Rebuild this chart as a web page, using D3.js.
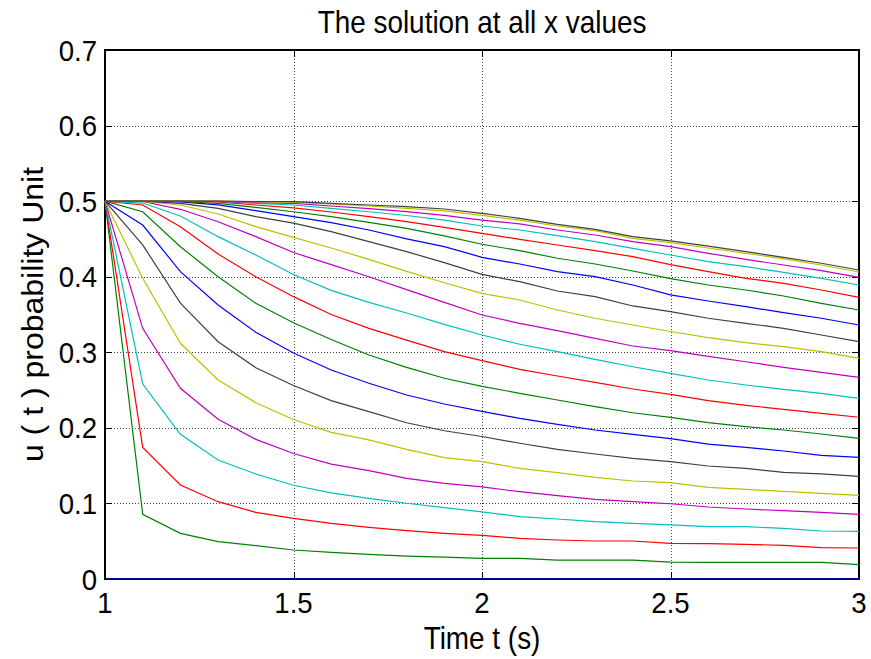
<!DOCTYPE html>
<html><head><meta charset="utf-8">
<script src="https://cdn.jsdelivr.net/npm/d3@7/dist/d3.min.js"></script>
<style>body{margin:0;background:#fff}svg{display:block}</style>
</head><body>
<svg id="chart" width="871" height="659"></svg>
<script>
// ---- data ----
const times = [1.0,1.1,1.2,1.3,1.4,1.5,1.6,1.7,1.8,1.9,2.0,2.1,2.2,2.3,2.4,2.5,2.6,2.7,2.8,2.9,3.0];
const u0  = [0,0,0,0,0,0,0,0,0,0,0,0,0,0,0,0,0,0,0,0,0];
const u1  = [0.5,0.0856,0.0604,0.0494,0.0441,0.0384,0.0353,0.0327,0.0304,0.029,0.0274,0.0272,0.0251,0.0251,0.0250,0.0222,0.0221,0.0221,0.0221,0.0220,0.019];
const u2  = [0.5,0.1742,0.1244,0.1023,0.0882,0.0803,0.0737,0.0684,0.064,0.0605,0.0578,0.0538,0.0516,0.0503,0.0503,0.0472,0.0468,0.0459,0.0446,0.0415,0.041];
const u3  = [0.5,0.258,0.1914,0.1575,0.139,0.124,0.114,0.1068,0.1002,0.0944,0.0888,0.0825,0.0794,0.0759,0.0737,0.0715,0.0692,0.0692,0.067,0.0635,0.0631];
const u4  = [0.5,0.3317,0.2523,0.2113,0.1848,0.166,0.152,0.1433,0.1332,0.1266,0.1218,0.1155,0.1102,0.1054,0.1023,0.0996,0.0953,0.0926,0.0904,0.0882,0.0856];
const u5  = [0.5,0.398,0.3119,0.2633,0.2333,0.211,0.194,0.184,0.1716,0.1605,0.1552,0.1465,0.1407,0.1346,0.1297,0.1274,0.1213,0.1187,0.116,0.1134,0.1107];
const u6  = [0.5,0.442,0.365,0.314,0.2796,0.256,0.236,0.2214,0.2068,0.1962,0.1886,0.1796,0.1716,0.1654,0.1597,0.1552,0.1495,0.1464,0.1411,0.139,0.1359];
const u7  = [0.5,0.4684,0.4067,0.3626,0.3264,0.299,0.2766,0.259,0.2435,0.2316,0.2218,0.2126,0.2047,0.1972,0.1915,0.1857,0.1786,0.1742,0.1694,0.1637,0.161];
const u8  = [0.5,0.486,0.4397,0.4,0.3648,0.339,0.317,0.2964,0.28,0.2656,0.255,0.2457,0.2369,0.228,0.22,0.2139,0.2069,0.2016,0.1972,0.1919,0.1862];
const u9  = [0.5,0.4949,0.4662,0.430,0.4,0.3736,0.350,0.3317,0.316,0.3008,0.2889,0.2775,0.2686,0.2603,0.2514,0.2444,0.236,0.2298,0.2245,0.2192,0.214];
const u10 = [0.5,0.4975,0.4804,0.453,0.4287,0.403,0.382,0.366,0.352,0.337,0.3229,0.3106,0.3008,0.2907,0.2809,0.2722,0.2633,0.2567,0.251,0.2457,0.2391];
const u11 = [0.5,0.4995,0.4892,0.4728,0.453,0.432,0.416,0.400,0.383,0.366,0.3493,0.3383,0.3286,0.3185,0.3083,0.3021,0.2945,0.2875,0.2801,0.2735,0.2669];
const u12 = [0.5,0.4998,0.4949,0.483,0.4662,0.452,0.438,0.423,0.407,0.392,0.378,0.3692,0.356,0.345,0.3361,0.3275,0.3193,0.3127,0.3074,0.3008,0.292];
const u13 = [0.5,0.5,0.4971,0.4905,0.4795,0.471,0.4596,0.4464,0.4332,0.4186,0.4032,0.3934,0.3811,0.3736,0.3613,0.3537,0.345,0.3383,0.3317,0.3229,0.314];
const u14 = [0.5,0.5,0.499,0.495,0.4874,0.4795,0.4715,0.4618,0.450,0.4398,0.4257,0.4168,0.4067,0.4,0.389,0.376,0.3679,0.3604,0.3524,0.345,0.3361];
const u15 = [0.5,0.5,0.4995,0.4971,0.4918,0.486,0.4795,0.472,0.464,0.454,0.443,0.4345,0.4244,0.4168,0.4076,0.3975,0.389,0.3824,0.3745,0.3648,0.356];
const u16 = [0.5,0.5,0.4998,0.499,0.4949,0.491,0.4856,0.4795,0.4728,0.4653,0.4574,0.4495,0.442,0.4345,0.4265,0.416,0.4067,0.3979,0.3913,0.3824,0.3727];
const u17 = [0.5,0.5,0.5,0.4995,0.497,0.4949,0.4905,0.486,0.481,0.475,0.4671,0.4618,0.4543,0.4464,0.4376,0.4287,0.4199,0.4133,0.4058,0.3979,0.389];
const u18 = [0.5,0.5,0.5,0.4998,0.498,0.4971,0.4936,0.49,0.486,0.4812,0.475,0.4698,0.4618,0.4552,0.4464,0.4397,0.431,0.423,0.4155,0.408,0.3992];
const u19 = [0.5,0.5,0.5,0.5,0.499,0.4985,0.4962,0.4936,0.4905,0.487,0.4812,0.475,0.4671,0.4609,0.4508,0.445,0.438,0.431,0.4235,0.4155,0.4062];
const u20 = [0.5,0.5,0.5,0.5,0.4995,0.4993,0.4971,0.4949,0.4927,0.4896,0.4839,0.4773,0.4693,0.4627,0.453,0.4473,0.4406,0.4331,0.4257,0.4178,0.4089];
const seriesList = [u0,u1,u2,u3,u4,u5,u6,u7,u8,u9,u10,u11,u12,u13,u14,u15,u16,u17,u18,u19,u20];
const colorCycle = ["#0000ff","#008000","#ff0000","#00bfbf","#bf00bf","#bfbf00","#404040"];
const xTicks = [1,1.5,2,2.5,3];
const xTickLabels = ["1","1.5","2","2.5","3"];
const yTicks = [0,0.1,0.2,0.3,0.4,0.5,0.6,0.7];
const yTickLabels = ["0","0.1","0.2","0.3","0.4","0.5","0.6","0.7"];
const titleText = "The solution at all x values";
const xLabelText = "Time t (s)";
const yLabelText = "u ( t ) probability Unit";

// ---- layout ----
const W = 871, H = 659;
const m = {left:105, right:12, top:50, bottom:80};
const iw = W - m.left - m.right, ih = H - m.top - m.bottom;
const FS = 31, SX = 0.9, FST = 30, SXT = 0.92;
const svg = d3.select("#chart");
const x = d3.scaleLinear().domain([1,3]).range([m.left, m.left+iw]);
const y = d3.scaleLinear().domain([0,0.7]).range([m.top+ih, m.top]);

const font = "'Liberation Sans', Arial, sans-serif";

// grid
const grid = svg.append("g").attr("stroke","#444").attr("stroke-width",1).attr("stroke-dasharray","1,2").attr("shape-rendering","crispEdges");
grid.selectAll(".gx").data(xTicks).join("line")
  .attr("x1",d=>Math.round(x(d))+0.5).attr("x2",d=>Math.round(x(d))+0.5)
  .attr("y1",m.top).attr("y2",m.top+ih);
grid.selectAll(".gy").data(yTicks).join("line")
  .attr("y1",d=>Math.round(y(d))+0.5).attr("y2",d=>Math.round(y(d))+0.5)
  .attr("x1",m.left).attr("x2",m.left+iw);

// box + ticks
const ax = svg.append("g").attr("stroke","#000").attr("fill","none").attr("shape-rendering","crispEdges");
ax.append("rect").attr("x",m.left).attr("y",m.top).attr("width",iw).attr("height",ih).attr("stroke-width",1.6);
const TL = 7;
xTicks.forEach(t=>{
  const px = Math.round(x(t))+0.5;
  ax.append("line").attr("x1",px).attr("x2",px).attr("y1",m.top+ih).attr("y2",m.top+ih-TL).attr("stroke-width",1.5);
  ax.append("line").attr("x1",px).attr("x2",px).attr("y1",m.top).attr("y2",m.top+TL).attr("stroke-width",1.5);
});
yTicks.forEach(t=>{
  const py = Math.round(y(t))+0.5;
  ax.append("line").attr("x1",m.left).attr("x2",m.left+TL).attr("y1",py).attr("y2",py).attr("stroke-width",1.5);
  ax.append("line").attr("x1",m.left+iw).attr("x2",m.left+iw-TL).attr("y1",py).attr("y2",py).attr("stroke-width",1.5);
});

// lines
const line = d3.line().x((d,i)=>x(times[i])).y(d=>y(d));
svg.append("g").selectAll("path").data(seriesList).join("path")
  .attr("d",d=>line(d)).attr("fill","none")
  .attr("stroke",(d,i)=>colorCycle[i%colorCycle.length])
  .attr("stroke-width",1.2);

// tick labels
const txt = svg.append("g").attr("font-family",font).attr("fill","#000");
xTicks.forEach((t,i)=>{
  txt.append("text").attr("font-size",FST).attr("transform",`translate(${x(t)},613) scale(${SXT},1)`)
    .attr("text-anchor","middle").text(xTickLabels[i]);
});
yTicks.forEach((t,i)=>{
  txt.append("text").attr("font-size",FST).attr("transform",`translate(97,${y(t)+10.5}) scale(${SXT},1)`)
    .attr("text-anchor","end").text(yTickLabels[i]);
});
txt.append("text").attr("font-size",FS).attr("transform",`translate(${m.left+iw/2},33) scale(${SX},1)`)
  .attr("text-anchor","middle").text(titleText);
txt.append("text").attr("font-size",FS).attr("transform",`translate(${m.left+iw/2},649) scale(${SX},1)`)
  .attr("text-anchor","middle").text(xLabelText);
txt.append("text").attr("font-size",FS+1).attr("transform",`translate(43,${m.top+ih/2}) scale(${SX},1) rotate(-90)`)
  .attr("text-anchor","middle").text(yLabelText);
</script>
</body></html>
